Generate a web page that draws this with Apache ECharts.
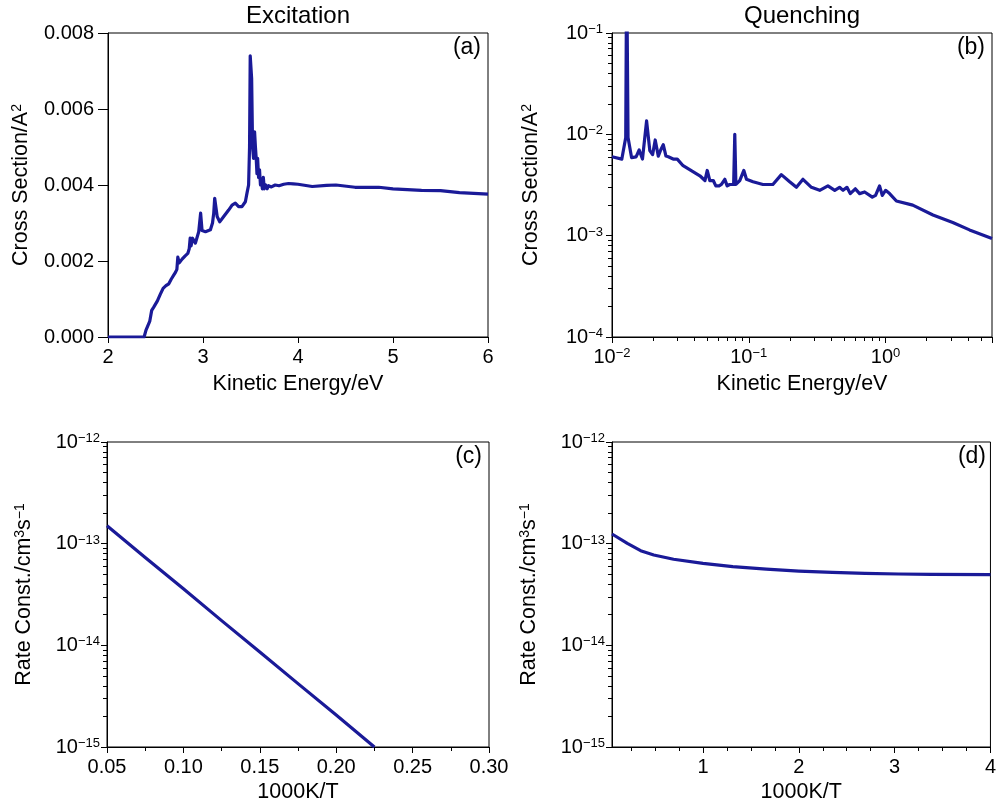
<!DOCTYPE html>
<html><head><meta charset="utf-8">
<script src="https://cdn.jsdelivr.net/npm/echarts@6/dist/echarts.min.js"></script>
<style>html,body{margin:0;padding:0;background:#fff}#c{width:999px;height:810px}</style>
</head><body><div id="c"></div>
<script>
// ---------- data ----------
// (a) Excitation cross section vs kinetic energy
const excE = [2.00,2.38,2.40,2.42,2.44,2.46,2.48,2.50,2.52,2.55,2.58,2.61,2.64,2.665,2.69,2.71,2.725,2.735,2.75,2.78,2.81,2.84,2.855,2.865,2.875,2.89,2.92,2.955,2.975,2.99,3.026,3.078,3.10,3.113,3.123,3.149,3.176,3.218,3.27,3.306,3.34,3.375,3.41,3.446,3.464,3.48,3.49,3.497,3.503,3.512,3.522,3.532,3.543,3.552,3.56,3.568,3.575,3.585,3.595,3.605,3.615,3.625,3.635,3.645,3.66,3.675,3.69,3.72,3.76,3.80,3.85,3.90,3.95,4.00,4.15,4.30,4.40,4.60,4.85,5.00,5.30,5.50,5.70,6.00];
const excCS = [0,0,0.00018,0.0003,0.00042,0.0007,0.00078,0.0008,0.00095,0.00112,0.00128,0.00135,0.0014,0.00152,0.00162,0.0017,0.00178,0.0021,0.00195,0.00205,0.00213,0.0022,0.00232,0.0026,0.0024,0.0026,0.00247,0.00277,0.00326,0.0028,0.00277,0.00282,0.0030,0.00326,0.00365,0.00317,0.00303,0.00317,0.00334,0.00347,0.00352,0.00343,0.00343,0.00356,0.0038,0.0040,0.0050,0.0074,0.0074,0.0068,0.0050,0.0047,0.0054,0.0050,0.0047,0.0043,0.0047,0.0042,0.0044,0.0040,0.00415,0.0039,0.0042,0.0039,0.0040,0.0039,0.00398,0.00395,0.0040,0.00398,0.00402,0.00404,0.00403,0.00402,0.00396,0.00399,0.00400,0.00394,0.00394,0.00390,0.00386,0.00385,0.00380,0.00376];
// (b) Quenching cross section vs kinetic energy (log-log)
const queE = [0.0100,0.0118,0.0126,0.0128,0.0131,0.0139,0.0150,0.0158,0.0167,0.0179,0.0189,0.0198,0.0207,0.0218,0.0227,0.0237,0.0248,0.0258,0.0280,0.0300,0.0331,0.0439,0.0478,0.0497,0.0519,0.0550,0.0574,0.0607,0.0631,0.0668,0.0695,0.0726,0.0775,0.0790,0.0805,0.0859,0.0920,0.0962,0.1074,0.127,0.150,0.173,0.199,0.223,0.249,0.287,0.330,0.379,0.425,0.461,0.489,0.522,0.552,0.601,0.646,0.703,0.800,0.845,0.904,0.946,1.00,1.07,1.20,1.58,2.22,3.10,4.11,6.00];
const queCS = [0.0060,0.0057,0.0093,0.5,0.0093,0.0059,0.0060,0.0070,0.0057,0.0136,0.0069,0.0063,0.0088,0.0061,0.0070,0.0079,0.0061,0.0060,0.0057,0.0057,0.0049,0.0039,0.0035,0.0044,0.0035,0.0035,0.0031,0.0031,0.0032,0.0036,0.0031,0.0032,0.0032,0.0100,0.0032,0.0035,0.0044,0.0036,0.0034,0.0032,0.0032,0.0040,0.0034,0.0030,0.0036,0.0030,0.0028,0.0031,0.0028,0.0030,0.0028,0.0030,0.0026,0.0029,0.0026,0.0027,0.0024,0.0025,0.0031,0.0025,0.0028,0.0026,0.0022,0.0020,0.0016,0.00135,0.00114,0.00094];
// (c) Excitation rate constant vs 1000K/T
const excT = [0.05,0.075,0.10,0.125,0.15,0.175,0.20,0.225];
const excK = [1.50e-13,7.3e-14,3.6e-14,1.75e-14,8.6e-15,4.2e-15,2.06e-15,1.0e-15];
// (d) Quenching rate constant vs 1000K/T
const queT = [0.05,0.21,0.349,0.486,0.693,1.0,1.31,1.66,2.0,2.35,2.69,3.04,3.38,4.0];
const queK = [1.245e-13,1.007e-13,8.53e-14,7.74e-14,7.02e-14,6.41e-14,5.94e-14,5.63e-14,5.38e-14,5.22e-14,5.10e-14,5.03e-14,4.99e-14,4.95e-14];
// tick labels / texts
const titles = ['Excitation','Quenching'];
const panelTags = ['(a)','(b)','(c)','(d)'];
const xNames = ['Kinetic Energy/eV','Kinetic Energy/eV','1000K/T','1000K/T'];
const yNames = ['Cross Section/A{sup|2}','Cross Section/A{sup|2}','Rate Const./cm{sup|3}s{sup|\u22121}','Rate Const./cm{sup|3}s{sup|\u22121}'];
const dTicks = [1,2,3,4];

// ---------- styling ----------
const FONT = '"Liberation Sans", Arial, Helvetica, sans-serif';
const LINE = '#1a1a98';
const supRich = {sup:{fontSize:13, verticalAlign:'top', fontFamily:FONT, color:'#000', lineHeight:14}};
function powLabel(v){
  const l = Math.log10(v), e = Math.round(l);
  if (Math.abs(l-e) > 1e-6) return '';
  return '10{sup|' + (e<0 ? '\u2212'+(-e) : e) + '}';
}
function logMinor(n0, n1, maxV){
  const out=[];
  for(let n=n0;n<=n1;n++) for(let k=2;k<=9;k++){ const v=k*Math.pow(10,n); if(v<=maxV*1.0001) out.push(Math.log10(v)); }
  return out;
}
const quarterMinor = [0.25,0.5,0.75,1.25,1.5,1.75,2.25,2.5,2.75,3.25,3.5,3.75];

const lbl = (m) => ({color:'#000', fontSize:20, fontFamily:FONT, margin:m, rich:supRich});
const aLine = {show:true, onZero:false, lineStyle:{color:'#000', width:1}};
const tick = (len) => ({show:true, length:len, lineStyle:{color:'#000', width:1}});
const nameStyle = {color:'#000', fontSize:21.5, fontFamily:FONT, rich:{sup:{fontSize:14, verticalAlign:'top', fontFamily:FONT, color:'#000', lineHeight:14}}};
const noSplit = {show:false};

const gridBase = {show:true, borderColor:'#000', borderWidth:1, backgroundColor:'transparent'};
const grids = [
  Object.assign({left:108, top:33, width:380, height:304}, gridBase),
  Object.assign({left:612, top:33, width:380, height:304}, gridBase),
  Object.assign({left:107, top:442, width:382, height:305}, gridBase),
  Object.assign({left:612, top:442, width:381, height:305}, gridBase)
];

const overlayX = (gi, min, max, vals) => ({type:'value', gridIndex:gi, min:min, max:max, position:'bottom',
  axisLine:{show:false, onZero:false}, axisLabel:{show:false}, splitLine:noSplit,
  axisTick:{show:true, length:4, customValues:vals, lineStyle:{color:'#000', width:1}}});
const overlayY = (gi, min, max, vals) => ({type:'value', gridIndex:gi, min:min, max:max, position:'left',
  axisLine:{show:false, onZero:false}, axisLabel:{show:false}, splitLine:noSplit,
  axisTick:{show:true, length:4, customValues:vals, lineStyle:{color:'#000', width:1}}});

const xAxis = [
  {type:'value', gridIndex:0, min:2, max:6, interval:1, position:'bottom', axisLine:aLine, axisTick:tick(6), splitLine:noSplit,
   axisLabel:lbl(10), name:xNames[0], nameLocation:'middle', nameGap:36, nameTextStyle:nameStyle},
  {type:'log', logBase:10, gridIndex:1, min:0.01, max:6, position:'bottom', axisLine:aLine, axisTick:tick(6), splitLine:noSplit,
   axisLabel:Object.assign(lbl(10), {formatter:powLabel}), name:xNames[1], nameLocation:'middle', nameGap:36, nameTextStyle:nameStyle},
  overlayX(1, -2, Math.log10(6), logMinor(-2, 0, 6)),
  {type:'value', gridIndex:2, min:0.05, max:0.30, interval:0.05, position:'bottom', axisLine:aLine, axisTick:tick(6), splitLine:noSplit,
   minorTick:{show:true, splitNumber:2, length:4, lineStyle:{color:'#000'}}, minorSplitLine:{show:false},
   axisLabel:Object.assign(lbl(10), {formatter:(v)=>v.toFixed(2)}), name:xNames[2], nameLocation:'middle', nameGap:34, nameTextStyle:nameStyle},
  {type:'value', gridIndex:3, min:0.05, max:4, position:'bottom', axisLine:aLine, splitLine:noSplit,
   axisTick:Object.assign(tick(6), {customValues:dTicks}),
   axisLabel:Object.assign(lbl(10), {customValues:dTicks}), name:xNames[3], nameLocation:'middle', nameGap:34, nameTextStyle:nameStyle},
  overlayX(3, 0.05, 4, quarterMinor)
];

const yAxis = [
  {type:'value', gridIndex:0, min:0, max:0.008, interval:0.002, position:'left', axisLine:aLine, axisTick:tick(10), splitLine:noSplit,
   axisLabel:Object.assign(lbl(14), {formatter:(v)=>v.toFixed(3)}), name:yNames[0], nameLocation:'middle', nameGap:76, nameTextStyle:nameStyle},
  {type:'log', logBase:10, gridIndex:1, min:1e-4, max:1e-1, position:'left', axisLine:aLine, axisTick:tick(6), splitLine:noSplit,
   axisLabel:Object.assign(lbl(9), {formatter:powLabel}), name:yNames[1], nameLocation:'middle', nameGap:70, nameTextStyle:nameStyle},
  overlayY(1, -4, -1, logMinor(-4, -2, 1)),
  {type:'log', logBase:10, gridIndex:2, min:1e-15, max:1e-12, position:'left', axisLine:aLine, axisTick:tick(6), splitLine:noSplit,
   axisLabel:Object.assign(lbl(7), {formatter:powLabel}), name:yNames[2], nameLocation:'middle', nameGap:72, nameTextStyle:nameStyle},
  overlayY(2, -15, -12, logMinor(-15, -13, 1)),
  {type:'log', logBase:10, gridIndex:3, min:1e-15, max:1e-12, position:'left', axisLine:aLine, axisTick:tick(6), splitLine:noSplit,
   axisLabel:Object.assign(lbl(7), {formatter:powLabel}), name:yNames[3], nameLocation:'middle', nameGap:72, nameTextStyle:nameStyle},
  overlayY(3, -15, -12, logMinor(-15, -13, 1))
];

const zip = (a,b) => a.map((v,i)=>[v,b[i]]);
const lineSeries = (xi, yi, data) => ({type:'line', xAxisIndex:xi, yAxisIndex:yi, data:data, symbol:'none', showSymbol:false,
  clip:true, lineStyle:{color:LINE, width:3.2, join:'round'}, itemStyle:{color:LINE}, animation:false});

const series = [
  lineSeries(0, 0, zip(excE, excCS)),
  lineSeries(1, 1, zip(queE, queCS)),
  lineSeries(3, 3, zip(excT, excK)),
  lineSeries(4, 5, zip(queT, queK))
];

const tagPos = [[481,36],[985,36],[482,445],[986,445]];
const graphic = [
  {type:'text', x:298, y:16, style:{text:titles[0], font:'24px '+FONT, fill:'#000', align:'center', verticalAlign:'middle'}},
  {type:'text', x:802, y:16, style:{text:titles[1], font:'24px '+FONT, fill:'#000', align:'center', verticalAlign:'middle'}}
].concat(panelTags.map((t,i)=>({type:'text', x:tagPos[i][0], y:tagPos[i][1],
  style:{text:t, font:'23px '+FONT, fill:'#000', align:'right', verticalAlign:'top'}})));

const chart = echarts.init(document.getElementById('c'), null, {renderer:'canvas'});
chart.setOption({animation:false, backgroundColor:'#fff', grid:grids, xAxis:xAxis, yAxis:yAxis, series:series, graphic:graphic});
</script></body></html>
